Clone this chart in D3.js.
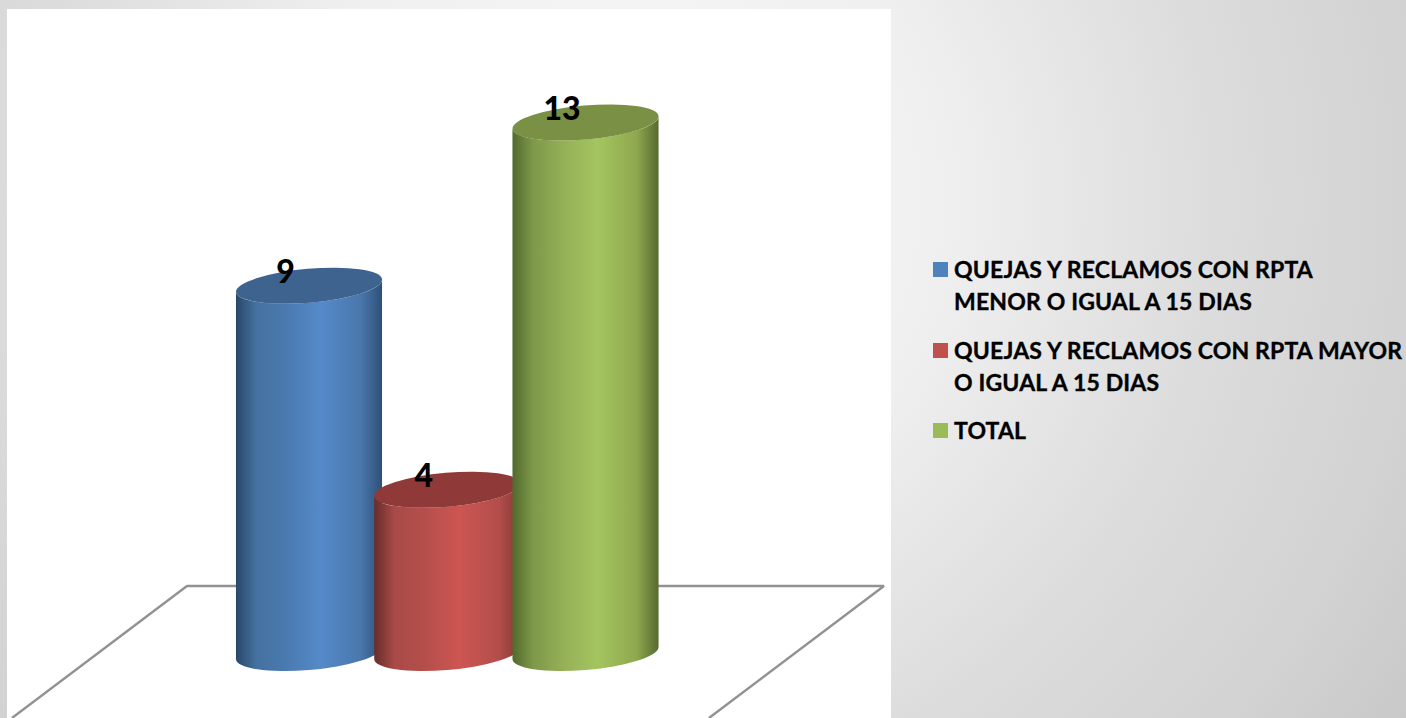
<!DOCTYPE html>
<html>
<head>
<meta charset="utf-8">
<script src="https://cdn.jsdelivr.net/npm/d3@7"></script>
<style>
    html, body { margin: 0; padding: 0; background: #e0e0e0; overflow: hidden; }
    text { font-family: Lato, "Open Sans", sans-serif; font-weight: 700; fill: #000; }
    .label { font-weight: 900; }
    .legend text { stroke: #000; stroke-width: 0.35px; letter-spacing: 0.17px; }
</style>
</head>
<body>
<svg id="chart_svg" width="1406" height="718"></svg>
<script>
// values
const categories = ["QUEJAS Y RECLAMOS CON RPTA MENOR O IGUAL A 15 DIAS", "QUEJAS Y RECLAMOS CON RPTA MAYOR O IGUAL A 15 DIAS", "TOTAL"];
const values = [9, 4, 13];
const legendLines = [
    ["QUEJAS Y RECLAMOS CON RPTA", "MENOR O IGUAL A 15 DIAS"],
    ["QUEJAS Y RECLAMOS CON RPTA MAYOR", "O IGUAL A 15 DIAS"],
    ["TOTAL"]
];
const swatchColors = ["#4f81bd", "#c0504d", "#9bbb59"];
const topColors = ["#3e638f", "#8f3a38", "#7a9044"];
const sideStops = [
    ["#2a4769", "#44719f", "#4a7ab0", "#5589c9", "#4a78ad", "#2f5077"],
    ["#682d2b", "#a84a47", "#b54f4c", "#cd5552", "#b34e4b", "#873835"],
    ["#526a2e", "#7d9848", "#96b058", "#a3c55f", "#8fa84f", "#566a2e"]
];
const stopOffsets = [0, 0.14, 0.35, 0.58, 0.85, 1];

const svg = d3.select("#chart_svg");
const defs = svg.append("defs");

// page background
const bg = defs.append("radialGradient")
    .attr("id", "bg_grad")
    .attr("gradientUnits", "userSpaceOnUse")
    .attr("cx", 620).attr("cy", 200).attr("r", 950);
[[0, "#fafafa"], [0.35, "#efefef"], [0.63, "#dcdcdc"], [0.85, "#d2d2d2"], [1, "#c8c8c8"]].forEach(s => {
    bg.append("stop").attr("offset", s[0]).attr("stop-color", s[1]);
});
svg.append("rect").attr("width", 1406).attr("height", 718).attr("fill", "url(#bg_grad)");

// white chart panel
svg.append("rect").attr("x", 7).attr("y", 9).attr("width", 884).attr("height", 709).attr("fill", "#fff");

// floor
const floorY = 586;
const floorPath = `M12,718L187,${floorY}L884,${floorY}L709,718`;
svg.append("path")
    .attr("d", floorPath)
    .attr("fill", "none")
    .attr("stroke", "#929292")
    .attr("stroke-width", 2.4)
    .attr("stroke-linejoin", "bevel");

// scales
const xScale = d3.scalePoint().domain(categories).range([309, 585.5]);
const yScale = d3.scaleLinear().domain([0, 13]).range([653, 122.5]);

// cylinder geometry: tilted ellipse
const rx = 73.3, ry = 17, tilt = -5;
const tiltRad = tilt * Math.PI / 180;
const halfW = Math.sqrt(rx * rx * Math.cos(tiltRad) ** 2 + ry * ry * Math.sin(tiltRad) ** 2);
const edgeDy = (rx * rx - ry * ry) * Math.sin(tiltRad) * Math.cos(tiltRad) / halfW;

function sidePath(cx, yTop, yBase) {
    const lx = cx - halfW, rxx = cx + halfW;
    return `M${lx},${yTop - edgeDy}` +
        `L${lx},${yBase - edgeDy}` +
        `A${rx},${ry} ${tilt} 0 0 ${rxx},${yBase + edgeDy}` +
        `L${rxx},${yTop + edgeDy}` +
        `A${rx},${ry} ${tilt} 0 1 ${lx},${yTop - edgeDy}Z`;
}

categories.forEach((c, i) => {
    const g = defs.append("linearGradient")
        .attr("id", "side_" + i)
        .attr("x1", 0).attr("x2", 1).attr("y1", 0).attr("y2", 0);
    stopOffsets.forEach((o, j) => {
        g.append("stop").attr("offset", o).attr("stop-color", sideStops[i][j]);
    });
});

const bars = svg.selectAll(".bar")
    .data(categories)
    .enter()
    .append("g")
    .attr("class", "bar");

bars.append("path")
    .attr("d", (d, i) => sidePath(xScale(d), yScale(values[i]), yScale(0)))
    .attr("fill", (d, i) => `url(#side_${i})`);

bars.append("ellipse")
    .attr("rx", rx)
    .attr("ry", ry)
    .attr("transform", (d, i) => `translate(${xScale(d)},${yScale(values[i])}) rotate(${tilt})`)
    .attr("fill", (d, i) => topColors[i]);

// data labels
svg.selectAll(".label")
    .data(categories)
    .enter()
    .append("text")
    .attr("class", "label")
    .attr("x", d => xScale(d) - 23.5)
    .attr("y", (d, i) => yScale(values[i]) - 3)
    .attr("text-anchor", "middle")
    .attr("font-size", 32)
    .text((d, i) => values[i]);

// legend
const legendTop = [262, 343, 423];
const lineGap = 32.5;
const legend = svg.selectAll(".legend")
    .data(legendLines)
    .enter()
    .append("g")
    .attr("class", "legend")
    .attr("transform", (d, i) => `translate(933,${legendTop[i]})`);

legend.append("rect")
    .attr("width", 15)
    .attr("height", 15)
    .attr("fill", (d, i) => swatchColors[i]);

legend.selectAll("text")
    .data(d => d)
    .enter()
    .append("text")
    .attr("x", 21)
    .attr("y", (d, i) => 15.5 + i * lineGap)
    .attr("font-size", 23)
    .text(d => d);
</script>
</body>
</html>
